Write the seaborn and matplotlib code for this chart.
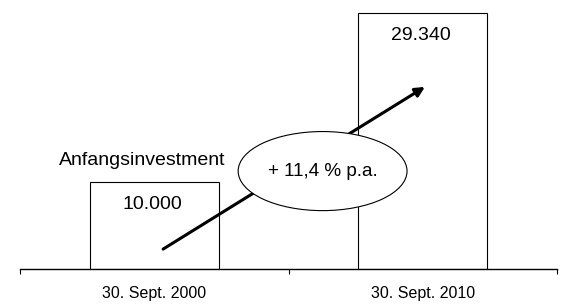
import matplotlib
matplotlib.use('Agg')
import matplotlib.pyplot as plt
from matplotlib.patches import Ellipse
import seaborn as sns

# Chart data
dates = ['30. Sept. 2000', '30. Sept. 2010']
values = [10000, 29340]
value_labels = ['10.000', '29.340']
start_label = 'Anfangsinvestment'
growth_label = '+ 11,4 % p.a.'

sns.set_theme(style='white')
plt.rcParams['font.family'] = ['Liberation Sans', 'DejaVu Sans']

fig = plt.figure(figsize=(5.64, 3.04), dpi=100)
ax = fig.add_axes([20 / 564, 35 / 304, 537 / 564, 269 / 304])

sns.barplot(x=dates, y=values, color='white', saturation=1,
            edgecolor='black', linewidth=0.8, width=0.48, ax=ax)

ymax = values[1] * 269 / 256
ax.set_xlim(-0.5, 1.5)
ax.set_ylim(0, ymax)

# value labels inside the bars
for i, (v, lab) in enumerate(zip(values, value_labels)):
    ax.annotate(lab, xy=(i, v), xytext=(-1, -19.5), textcoords='offset points',
                ha='center', va='baseline', fontsize=14, color='black')

ax.annotate(start_label, xy=(0, values[0]), xytext=(-9, 12.2),
            textcoords='offset points', ha='center', va='baseline',
            fontsize=14, color='black')

# growth arrow
ax.annotate('', xy=(1.008, 0.677 * ymax), xytext=(0.033, 0.074 * ymax),
            arrowprops=dict(arrowstyle='-|>', lw=2.2, color='black',
                            mutation_scale=14, shrinkA=0, shrinkB=0),
            zorder=3)

# ellipse with growth rate
ell = Ellipse((0.627, 0.364 * ymax), width=0.629, height=0.294 * ymax,
              facecolor='white', edgecolor='black', linewidth=0.8, zorder=4)
ax.add_patch(ell)
ax.text(0.627, 0.364 * ymax, growth_label, ha='center', va='center',
        fontsize=13.6, color='black', zorder=5)

# axis styling
for s in ['top', 'left', 'right']:
    ax.spines[s].set_visible(False)
ax.spines['bottom'].set_color('black')
ax.spines['bottom'].set_linewidth(1.0)
ax.set_yticks([])
ax.set_xticks([-0.5, 0.5, 1.5])
ax.set_xticklabels([])
ax.set_xticks([0, 1], minor=True)
ax.set_xticklabels(dates, minor=True, fontsize=11.5)
ax.tick_params(axis='x', which='major', bottom=True, direction='out',
               length=3.6, width=0.8, color='black')
ax.tick_params(axis='x', which='minor', bottom=True, length=0, pad=12,
               labelcolor='black')
ax.set_xlabel('')
ax.set_ylabel('')

fig.savefig('out.png', dpi=100)
